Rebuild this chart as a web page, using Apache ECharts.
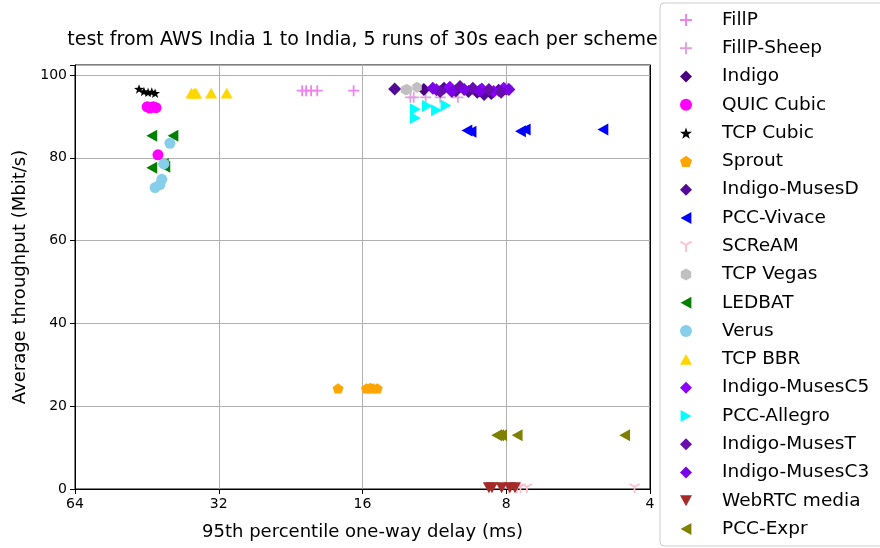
<!DOCTYPE html>
<html>
<head>
<meta charset="utf-8">
<script src="https://cdn.jsdelivr.net/npm/echarts@6/dist/echarts.min.js"></script>
<style>html,body{margin:0;padding:0;background:#fff}#c{width:880px;height:548px}</style>
</head>
<body>
<div id="c"></div>
<script>
// ---- data: [95th percentile one-way delay (ms), average throughput (Mbit/s)] ----
const schemeNames = ['FillP','FillP-Sheep','Indigo','QUIC Cubic','TCP Cubic','Sprout','Indigo-MusesD','PCC-Vivace','SCReAM','TCP Vegas','LEDBAT','Verus','TCP BBR','Indigo-MusesC5','PCC-Allegro','Indigo-MusesT','Indigo-MusesC3','WebRTC media','PCC-Expr'];
const FillP = [[21.4,96.2],[21.0,96.2],[20.5,96.2],[19.9,96.2],[16.7,96.2]];
const FillPSheep = [[12.7,94.6],[11.8,94.6],[11.0,94.6],[10.1,94.6],[12.5,94.6]];
const Indigo = [[11.9,96.5],[10.2,96.2],[9.2,95.8],[8.6,95.5],[8.0,96.6]];
const QUICCubic = [[45.2,92.3],[44.6,92.0],[43.9,92.3],[43.3,92.1],[42.9,80.7]];
const TCPCubic = [[47.0,96.6],[45.9,96.0],[45.0,95.8],[44.2,95.9],[43.5,95.6]];
const Sprout = [[18.0,24.3],[15.7,24.3],[15.4,24.4],[15.2,24.3],[14.9,24.3]];
const IndigoMusesD = [[13.7,96.6],[10.8,96.8],[9.6,96.0],[8.9,95.3],[8.3,96.3]];
const PCCVivace = [[9.67,86.6],[9.48,86.3],[7.47,86.4],[7.30,86.8],[5.02,86.8]];
const SCReAM = [[7.47,0.2],[7.24,0.2],[4.31,0.2],[7.6,0.1],[7.9,0.1]];
const TCPVegas = [[13.0,96.4],[12.3,97.0],[7.93,96.8],[12.9,96.5],[8.0,96.7]];
const LEDBAT = [[44.2,85.3],[39.9,85.3],[44.2,77.6],[41.5,77.8],[41.8,78.5]];
const Verus = [[40.5,83.5],[41.7,78.5],[42.1,74.8],[42.5,73.5],[43.5,72.8]];
const TCPBBR = [[36.5,95.6],[35.7,95.6],[33.2,95.6],[30.8,95.6],[36.0,95.6]];
const IndigoMusesC5 = [[11.2,96.4],[10.5,97.0],[9.0,96.6],[8.5,96.0],[8.1,96.8]];
const PCCAllegro = [[12.4,91.7],[12.4,89.6],[11.7,92.5],[11.2,91.5],[10.7,92.6]];
const IndigoMusesT = [[11.0,96.0],[10.0,97.2],[9.4,96.8],[8.7,96.5],[8.2,95.8]];
const IndigoMusesC3 = [[11.4,96.8],[10.4,96.0],[9.8,96.5],[9.1,96.2],[7.9,96.5]];
const WebRTC = [[8.7,0.3],[8.57,0.3],[8.18,0.3],[7.86,0.3],[7.67,0.3]];
const PCCExpr = [[8.38,13.0],[8.18,13.0],[7.59,13.0],[4.52,13.0],[8.3,13.0]];
const xTicks = [4,8,16,32,64];
const yTicks = [0,20,40,60,80,100];

const seriesData = [FillP,FillPSheep,Indigo,QUICCubic,TCPCubic,Sprout,IndigoMusesD,PCCVivace,SCReAM,TCPVegas,LEDBAT,Verus,TCPBBR,IndigoMusesC5,PCCAllegro,IndigoMusesT,IndigoMusesC3,WebRTC,PCCExpr];
const colors = ['#ee82ee','#dda0dd','#4b0082','#ff00ff','#000000','#ffa500','#520a96','#0000ff','#ffc0cb','#c0c0c0','#008000','#87ceeb','#ffd700','#8b00ff','#00ffff','#6a0dad','#7a00e6','#a52a2a','#808000'];
const PLUS='path://M4.2,0H5.8V4.2H10V5.8H5.8V10H4.2V5.8H0V4.2H4.2Z';
const STAR='path://M5,0L6.18,3.38L9.76,3.45L6.9,5.62L7.94,9.05L5,7L2.06,9.05L3.1,5.62L0.24,3.45L3.82,3.38Z';
const PENT='path://M5,0L9.76,3.45L7.94,9.05L2.06,9.05L0.24,3.45Z';
const LEFT='path://M0,5L9,0L9,10Z';
const RIGHT='path://M9,5L0,0L0,10Z';
const DOWN='path://M0,0L10,0L5,9Z';
const UP='path://M5,0L10,9L0,9Z';
const HEX='path://M5,0L9.33,2.5L9.33,7.5L5,10L0.67,7.5L0.67,2.5Z';
const TRI1='path://M4.3,10H5.7V5.4L9.4,3.3L8.7,2.1L5,4.2L1.3,2.1L0.6,3.3L4.3,5.4Z';
const symbols=[PLUS,PLUS,'diamond','circle',STAR,PENT,'diamond',LEFT,TRI1,HEX,LEFT,'circle',UP,'diamond',RIGHT,'diamond','diamond',DOWN,LEFT];
const sizes=[11,11,13,11,10,11,13,12,11,11,12,11,12,13,12,13,13,12,12];

const series = seriesData.map((d,i)=>({
  name: schemeNames[i], type:'scatter', data:d, symbol:symbols[i], symbolSize:sizes[i],
  symbolKeepAspect:true, itemStyle:{color:colors[i], opacity:1}, animation:false
}));

const chart = echarts.init(document.getElementById('c'),null,{renderer:'canvas'});
const FONT='DejaVu Sans';
const frameX = {type:'log',logBase:2,min:4,max:64,inverse:true,position:'top',
  axisLine:{show:true,lineStyle:{color:'#000'}},axisTick:{show:false},axisLabel:{show:false},splitLine:{show:false}};
const frameY = {type:'value',min:0,max:102.4,position:'right',
  axisLine:{show:true,lineStyle:{color:'#000'}},axisTick:{show:false},axisLabel:{show:false},splitLine:{show:false}};
chart.setOption({
  animation:false,
  backgroundColor:'#fff',
  textStyle:{fontFamily:FONT},
  graphic:[{type:'text', x:362.5, y:40, z:0, style:{text:'test from AWS India 1 to India, 5 runs of 30s each per scheme', fontSize:19, fontFamily:FONT, fill:'#000', align:'center', verticalAlign:'middle', textAlign:'center', textVerticalAlign:'middle'}}],
  grid:{left:75,right:230,top:65,bottom:59,show:true,borderColor:'#000',borderWidth:1,backgroundColor:'#fff'},
  xAxis:[{type:'log',logBase:2,min:4,max:64,inverse:true,position:'bottom',
    name:'95th percentile one-way delay (ms)',nameLocation:'middle',nameGap:34,
    nameTextStyle:{fontSize:18,color:'#000',fontFamily:FONT},
    axisLine:{show:true,lineStyle:{color:'#000'}},
    axisTick:{show:true,inside:false,length:5,lineStyle:{color:'#000'}},
    minorTick:{show:false},
    axisLabel:{fontSize:14,color:'#000',margin:8,fontFamily:FONT,formatter:v=>xTicks.includes(Math.round(v))?String(Math.round(v)):''},
    splitLine:{show:true,lineStyle:{color:'#b0b0b0',width:1}}}, frameX],
  yAxis:[{type:'value',min:0,max:102.4,interval:20,position:'left',
    name:'Average throughput (Mbit/s)',nameLocation:'middle',nameGap:46,
    nameTextStyle:{fontSize:18,color:'#000',fontFamily:FONT},
    axisLine:{show:true,lineStyle:{color:'#000'}},
    axisTick:{show:true,inside:false,length:5,lineStyle:{color:'#000'}},
    axisLabel:{fontSize:14,color:'#000',margin:8,fontFamily:FONT,formatter:v=>yTicks.includes(v)?String(v):''},
    splitLine:{show:true,lineStyle:{color:'#b0b0b0',width:1}}}, frameY],
  legend:{orient:'vertical',left:660,top:3,z:10,
    padding:[7,40,7,20],itemGap:8.28,itemWidth:12,itemHeight:12,
    backgroundColor:'#fff',borderColor:'#cccccc',borderWidth:1,borderRadius:4,
    textStyle:{fontSize:18.5,color:'#000',fontFamily:FONT,lineHeight:20,padding:[0,0,0,25]},
    data:schemeNames},
  series:series
});
</script>
</body>
</html>
